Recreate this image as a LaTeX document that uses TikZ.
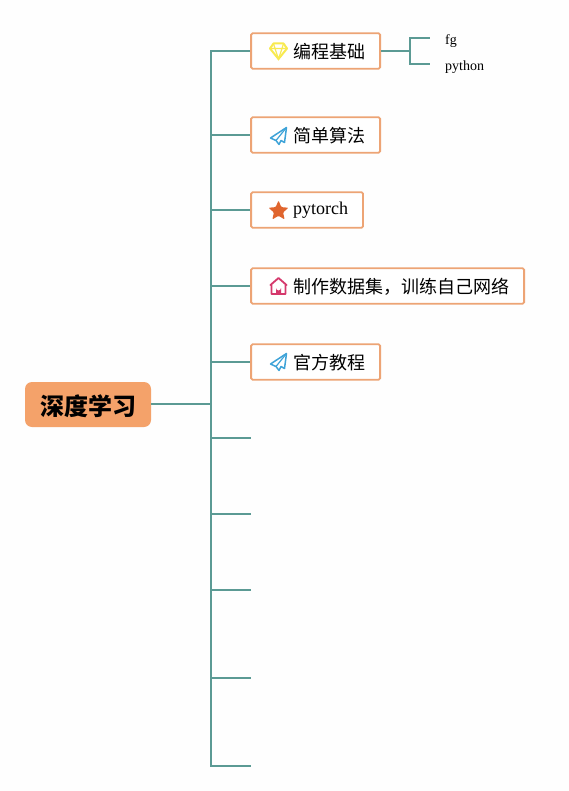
\documentclass[tikz,border=0pt]{standalone}
\usepackage{fontspec}
\setmainfont{Liberation Serif}
\newfontfamily\cjk{Noto Sans CJK SC}
\definecolor{branchcol}{HTML}{5B9A94}
\definecolor{boxcol}{HTML}{EDA475}
\definecolor{rootcol}{HTML}{F4A26A}
\definecolor{gemcol}{HTML}{F8EA50}
\definecolor{planecol}{HTML}{3EA3D8}
\definecolor{starcol}{HTML}{E0652E}
\definecolor{housecol}{HTML}{D5386C}
\definecolor{papercol}{HTML}{FEFEFE}
\tikzset{
  gemicon/.pic={
    \draw[gemcol, line width=2pt, line join=round] (-5,-7.5) -- (5,-7.5) -- (8.5,-2.5) -- (0,8) -- (-8.5,-2.5) -- cycle;
    \draw[gemcol, line width=1.2pt] (-8.5,-2.5) -- (8.5,-2.5) (-3.5,-2.5) -- (0,8) -- (3.5,-2.5) (-5,-7.5) -- (-3.5,-2.5) (5,-7.5) -- (3.5,-2.5);
  },
  planeicon/.pic={
    \draw[planecol, line width=1.5pt, line join=round] (8,-8.5) -- (-8,2) -- (-2.5,4.5) -- (0.5,8.5) -- (2.5,4.5) -- (6,6.5) -- cycle;
    \draw[planecol, line width=1.2pt] (8,-8.5) -- (-2.5,4.5);
  },
  staricon/.pic={
    \fill[starcol, rounded corners=1pt] (-90:10.5) -- (-54:4.8) -- (-18:10.5) -- (18:4.8) -- (54:10.5) -- (90:4.8) -- (126:10.5) -- (162:4.8) -- (198:10.5) -- (234:4.8) -- cycle;
  },
  houseicon/.pic={
    \draw[housecol, line width=1.8pt, line join=round] (-7,8) -- (-7,-1) -- (-8,-1) -- (0,-8) -- (8,-1) -- (7,-1) -- (7,8) -- cycle;
    \fill[housecol] (-2.5,8) -- (-2.5,2) arc[start angle=180, end angle=0, radius=2.5] -- (2.5,8) -- cycle;
  }
}
\begin{document}
\begin{tikzpicture}[
    x=1pt, y=-1pt,
    topic/.style={draw=boxcol, line width=1.8pt, rounded corners=1.5pt, fill=white, anchor=west, inner xsep=15pt, inner ysep=0pt, minimum height=35.5pt, text height=15pt, text depth=0pt, font=\fontsize{18}{22}\selectfont, execute at begin node=\hspace*{27pt}},
    rootnode/.style={fill=rootcol, rounded corners=7pt, minimum width=126pt, minimum height=45pt, inner sep=0pt, text height=22pt, text depth=0pt, font=\cjk\fontsize{24}{28}\selectfont\bfseries},
    leaf/.style={anchor=west, inner xsep=15pt, inner ysep=0pt, text height=13pt, text depth=0pt, font=\fontsize{14}{16}\selectfont},
    branch/.style={draw=branchcol, line width=1.8pt}
  ]
    \useasboundingbox (0,0) rectangle (569,791);
    \fill[papercol] (0,0) rectangle (569,791);

    \node[rootnode] (root) at (88,404.5) {深度学习};
    \node[topic] (basics) at (250.2,51) {\cjk 编程基础};
    \node[topic] (algo) at (250.2,135) {\cjk 简单算法};
    \node[topic, text height=9pt] (pytorch) at (250.2,210) {pytorch};
    \node[topic] (dataset) at (250.2,286) {\cjk 制作数据集，训练自己网络};
    \node[topic] (tutorial) at (250.2,362) {\cjk 官方教程};
    \node[leaf] (fg) at (430,38) {fg};
    \node[leaf] (python) at (430,64) {python};

    \coordinate (hub) at (211,404);
    \coordinate (empty1) at (251,438);
    \coordinate (empty2) at (251,514);
    \coordinate (empty3) at (251,590);
    \coordinate (empty4) at (251,678);
    \coordinate (empty5) at (251,766);
    \coordinate (fork) at (410,51);

    \draw[branch, line width=2.5pt] (root.east |- hub) -- (hub);
    \draw[branch] (hub) |- (basics.west);
    \draw[branch] (hub) |- (algo.west);
    \draw[branch] (hub) |- (pytorch.west);
    \draw[branch] (hub) |- (dataset.west);
    \draw[branch] (hub) |- (tutorial.west);
    \draw[branch] (hub) |- (empty1);
    \draw[branch] (hub) |- (empty2);
    \draw[branch] (hub) |- (empty3);
    \draw[branch] (hub) |- (empty4);
    \draw[branch] (hub) |- (empty5);
    \draw[branch] (basics.east) -- (fork);
    \draw[branch] (fork) |- (fg.west);
    \draw[branch] (fork) |- (python.west);

    \pic at (278.5,51) {gemicon};
    \pic at (278.5,136) {planeicon};
    \pic at (278.5,211) {staricon};
    \pic at (278.5,286) {houseicon};
    \pic at (278.5,362) {planeicon};
  \end{tikzpicture}
\end{document}
